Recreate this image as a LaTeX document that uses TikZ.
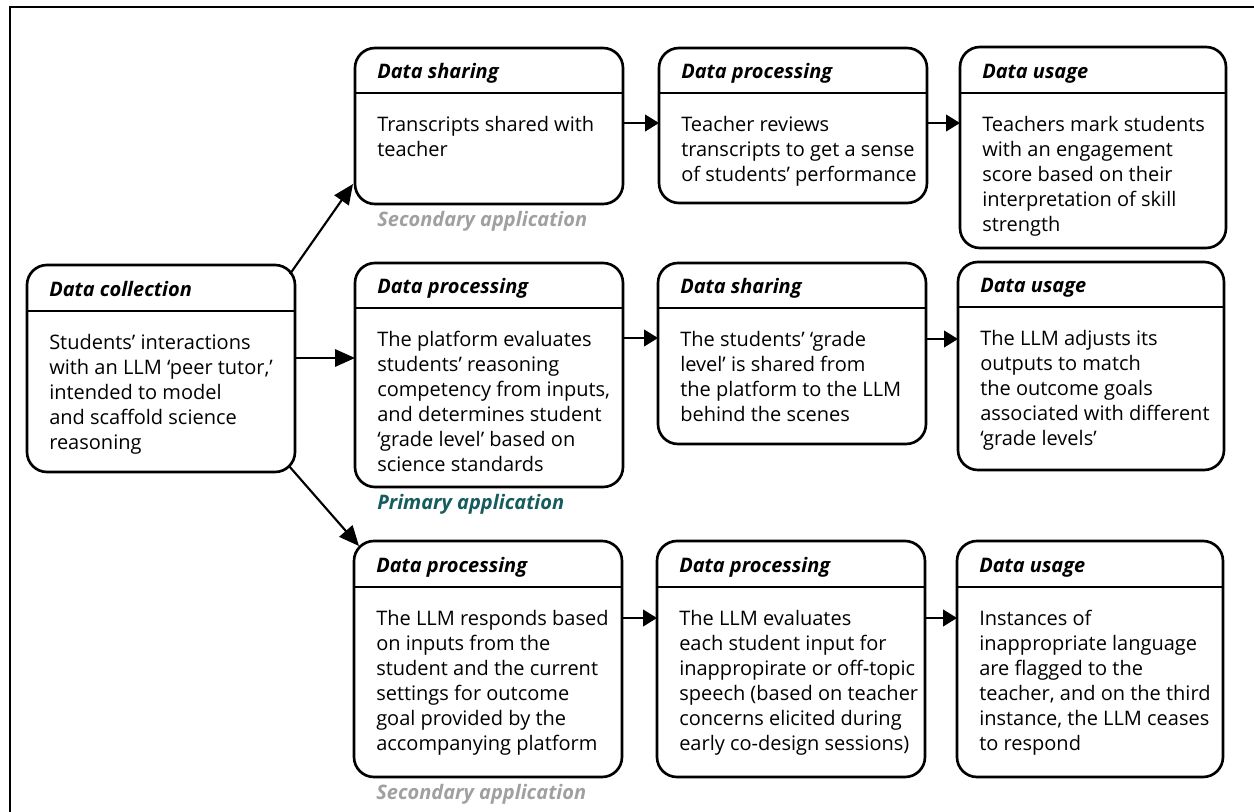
\documentclass[tikz,border=0pt]{standalone}
\usepackage{fontspec}
\setmainfont{Open Sans}
\usetikzlibrary{arrows.meta,calc}
\definecolor{tealone}{RGB}{22,92,94}
\definecolor{grayone}{RGB}{160,160,160}
\tikzset{
  px/.style={x=0.75pt,y=-0.75pt},
  box/.style={draw, line width=2pt, rounded corners=15pt, inner sep=0pt, outer sep=0pt, anchor=north west},
  hdr/.style={line width=1.6pt},
  ttl/.style={font=\fontsize{15pt}{18pt}\selectfont\bfseries\itshape, anchor=base west, inner sep=0pt},
  bdy/.style={font=\fontsize{15pt}{18.75pt}\selectfont, align=left, anchor=north west, inner sep=0pt},
  lbl/.style={font=\fontsize{15pt}{18pt}\selectfont\bfseries\itshape, anchor=base west, inner sep=0pt},
  flow/.style={line width=1.6pt, -{Triangle[length=10.5pt,width=12.5pt]}},
  bigflow/.style={line width=1.6pt, -{Triangle[length=15pt,width=13pt]}},
  frame/.style={line width=2.2pt},
}
\newcommand{\databox}[8]{%
  \node[box, minimum width=#4*0.75pt, minimum height=#5*0.75pt] (#1) at (#2,#3) {};
  \draw[hdr] ($(#1.north west)+(0,#6)$) -- ($(#1.north east)+(0,#6)$);
  \node[ttl] (#1-t) at ($(#1.north west)+(22,#6-15)$) {#7};
  \node[bdy] (#1-b) at ($(#1.north west)+(22,#6+20.5)$) {\strut #8};
}
\begin{document}
\begin{tikzpicture}[px]
\useasboundingbox (0,0) rectangle (1254,811);
\draw[frame] (1256,7) -- (10,7) -- (10,813);

\databox{dc}{27}{265}{268}{207}{46}{Data collection}{Students’ interactions\\with an LLM ‘peer tutor,’\\intended to model\\and scaffold science\\reasoning}

\databox{a1}{355}{48}{268}{156}{45}{Data sharing}{Transcripts shared with\\teacher}
\databox{a2}{659}{48}{268}{155}{45}{Data processing}{Teacher reviews\\transcripts to get a sense\\of students’ performance}
\databox{a3}{960}{47}{266}{201}{46}{Data usage}{Teachers mark students\\with an engagement\\score based on their\\interpretation of skill\\strength}

\databox{b1}{355}{263}{268}{224}{45}{Data processing}{The platform evaluates\\students’ reasoning\\competency from inputs,\\and determines student\\‘grade level’ based on\\science standards}
\databox{b2}{658}{263}{268}{181}{45}{Data sharing}{The students’ ‘grade\\level’ is shared from\\the platform to the LLM\\behind the scenes}
\databox{b3}{958}{262}{266}{208}{45}{Data usage}{The LLM adjusts its\\outputs to match\\the outcome goals\\associated with different\\‘grade levels’}

\databox{c1}{354}{541}{268}{236}{46}{Data processing}{The LLM responds based\\on inputs from the\\student and the current\\settings for outcome\\goal provided by the\\accompanying platform}
\databox{c2}{657}{541}{268}{236}{46}{Data processing}{The LLM evaluates\\each student input for\\inappropirate or off-topic\\speech (based on teacher\\concerns elicited during\\early co-design sessions)}
\databox{c3}{957}{541}{266}{236}{46}{Data usage}{Instances of\\inappropriate language\\are flagged to the\\teacher, and on the third\\instance, the LLM ceases\\to respond}

\node[lbl, text=grayone] (a1-l) at ($(a1.south west)+(22,22)$) {Secondary application};
\node[lbl, text=tealone] (b1-l) at ($(b1.south west)+(22,22)$) {Primary application};
\node[lbl, text=grayone] (c1-l) at ($(c1.south west)+(22,22)$) {Secondary application};

\draw[flow] ($(a1.north east)+(0,75)$) -- ($(a2.north west)+(0,75)$);
\draw[flow] ($(a2.north east)+(0,75)$) -- ($(a3.north west)+(0,76)$);
\draw[flow] ($(b1.north east)+(0,75)$) -- ($(b2.north west)+(0,75)$);
\draw[flow] ($(b2.north east)+(0,76)$) -- ($(b3.north west)+(0,77)$);
\draw[flow] ($(c1.north east)+(0,77)$) -- ($(c2.north west)+(0,77)$);
\draw[flow] ($(c2.north east)+(0,77)$) -- ($(c3.north west)+(0,77)$);

\coordinate (b1in) at ($(b1.north west)+(0,95)$);
\draw[bigflow] (dc.east |- b1in) -- (b1in);
\draw[bigflow] ($(dc.north east)+(-5,9)$) -- ($(a1.south west)+(-2,-20)$);
\draw[bigflow] ($(dc.south east)+(-6,-6)$) -- ($(c1.north west)+(5,5)$);
\end{tikzpicture}
\end{document}
